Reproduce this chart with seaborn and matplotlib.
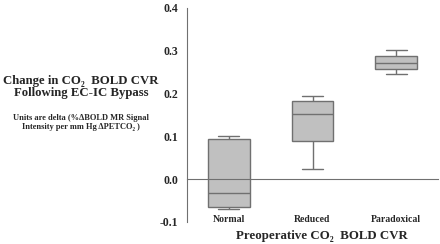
import matplotlib
matplotlib.use("Agg")
import matplotlib.pyplot as plt
import matplotlib.transforms as mtransforms
import numpy as np
import pandas as pd
import seaborn as sns

# five values per group: min, q1, median, q3, max
groups = ['Normal', 'Reduced', 'Paradoxical']
normal = [-0.070, -0.065, -0.033, 0.093, 0.100]
reduced = [0.024, 0.090, 0.153, 0.182, 0.195]
paradoxical = [0.246, 0.257, 0.272, 0.288, 0.302]
yticks = [-0.1, 0.0, 0.1, 0.2, 0.3, 0.4]

df = pd.DataFrame({
    'group': np.repeat(groups, 5),
    'cvr': normal + reduced + paradoxical,
})

sns.set_style('white')
plt.rcParams['font.family'] = ['Liberation Serif', 'DejaVu Serif']
plt.rcParams['font.weight'] = 'bold'

fig = plt.figure(figsize=(4.4, 2.44), dpi=100)
ax = fig.add_axes([187 / 440, 1 - 222 / 244, 251 / 440, 214 / 244])

line = '#707070'
sns.boxplot(data=df, x='group', y='cvr', order=groups, ax=ax, width=0.5,
            color='#c0c0c0', saturation=1, linewidth=1, linecolor=line,
            whis=1.5, fliersize=0)

ax.set_xlim(-0.5, 2.5)
ax.set_ylim(-0.1, 0.4)
for s in ['top', 'right']:
    ax.spines[s].set_visible(False)
ax.spines['left'].set_color(line)
ax.spines['bottom'].set_color(line)
ax.spines['bottom'].set_position(('data', 0))

ax.set_yticks(yticks, [f'{v:.1f}' for v in yticks])
ax.tick_params(axis='y', direction='inout', length=6, width=1, color=line,
               labelsize=8.5, pad=3.5)
ax.set_xticks([0.5, 1.5, 2.5], ['', '', ''])
ax.tick_params(axis='x', direction='inout', length=4, width=1, color=line)
for t in ax.get_yticklabels():
    t.set_fontweight('bold')

trans = mtransforms.blended_transform_factory(ax.transData, fig.transFigure)
for i, g in enumerate(groups):
    ax.text(i, 1 - 220 / 244, g, transform=trans, ha='center', va='center',
            fontsize=7, fontweight='bold')

ax.set_xlabel('')
ax.set_ylabel('')
fig.text(322 / 440, 1 - 236 / 244, 'Preoperative CO\u2082  BOLD CVR', ha='center',
         va='center', fontsize=9.3, fontweight='bold')

fig.text(81 / 440, 1 - 87 / 244, 'Change in CO\u2082  BOLD CVR\nFollowing EC-IC Bypass',
         ha='center', va='center', fontsize=9.2, fontweight='bold', linespacing=1.1)
fig.text(81 / 440, 1 - 122.5 / 244,
         'Units are delta (%\u0394BOLD MR Signal\nIntensity per mm Hg \u0394PETCO\u2082 )',
         ha='center', va='center', fontsize=6, fontweight='bold', linespacing=1.05)

fig.savefig('out.png', dpi=100)
